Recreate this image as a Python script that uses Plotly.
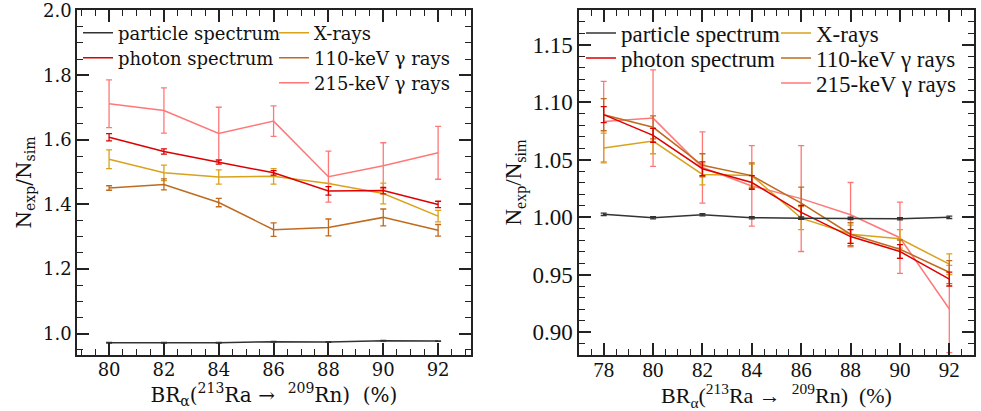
import plotly.graph_objects as go

# ---------------- data: left panel ----------------
xL = [80, 82, 84, 86, 88, 90, 92]
L_particle = [0.972, 0.972, 0.972, 0.975, 0.974, 0.978, 0.977]
L_particle_err = [0.001, 0.001, 0.001, 0.001, 0.001, 0.001, 0.001]
L_photon = [1.608, 1.564, 1.531, 1.498, 1.442, 1.443, 1.400]
L_photon_err = [0.011, 0.008, 0.006, 0.007, 0.013, 0.010, 0.010]
L_xray = [1.540, 1.498, 1.485, 1.487, 1.465, 1.434, 1.364]
L_xray_err = [0.029, 0.024, 0.022, 0.024, 0.000, 0.032, 0.018]
L_g110 = [1.451, 1.462, 1.406, 1.322, 1.329, 1.360, 1.320]
L_g110_err = [0.007, 0.017, 0.013, 0.021, 0.026, 0.026, 0.018]
L_g215 = [1.712, 1.691, 1.620, 1.658, 1.486, 1.520, 1.560]
L_g215_err = [0.074, 0.070, 0.081, 0.047, 0.079, 0.071, 0.082]

# ---------------- data: right panel ----------------
xR = [78, 80, 82, 84, 86, 88, 90, 92]
R_particle = [1.0023, 0.9994, 1.0020, 0.9994, 0.9990, 0.9988, 0.9985, 0.9997]
R_particle_err = [0.001, 0.001, 0.001, 0.001, 0.001, 0.001, 0.001, 0.001]
R_photon = [1.089, 1.071, 1.042, 1.030, 1.004, 0.983, 0.970, 0.946]
R_photon_err = [0.007, 0.006, 0.006, 0.006, 0.006, 0.006, 0.006, 0.006]
R_xray = [1.060, 1.066, 1.037, 1.036, 0.999, 0.985, 0.981, 0.959]
R_xray_err = [0.013, 0.011, 0.009, 0.010, 0.010, 0.008, 0.008, 0.009]
R_g110 = [1.089, 1.078, 1.045, 1.036, 1.012, 0.985, 0.972, 0.952]
R_g110_err = [0.014, 0.010, 0.010, 0.011, 0.014, 0.010, 0.008, 0.010]
R_g215 = [1.083, 1.086, 1.043, 1.027, 1.016, 1.002, 0.982, 0.920]
R_g215_err = [0.035, 0.042, 0.031, 0.035, 0.046, 0.028, 0.031, 0.038]

names = ["particle spectrum", "photon spectrum", "X-rays",
         "110-keV \u03b3 rays", "215-keV \u03b3 rays"]
colors = ["#333333", "#DD0000", "#D9A21B", "#BF6A1F", "#FF7878"]

FL = "DejaVu Serif"
FR = "Liberation Serif"
W, H = 981, 411

fig = go.Figure()

left_sets = [(L_particle, L_particle_err), (L_photon, L_photon_err),
             (L_xray, L_xray_err), (L_g110, L_g110_err), (L_g215, L_g215_err)]
right_sets = [(R_particle, R_particle_err), (R_photon, R_photon_err),
              (R_xray, R_xray_err), (R_g110, R_g110_err), (R_g215, R_g215_err)]

# legend placement (pixels): text start x and row centre y for each entry
legL_x = [118, 118, 314, 314, 314]
legR_x = [621, 621, 816, 816, 816]
leg_rows = [33, 58, 33, 58, 83]

order = [4, 2, 3, 1, 0]
layout_legends = {}
for panel, sets, xs, lx, font, fsize, xa, ya, base in [
        ("L", left_sets, xL, legL_x, FL, 18, "x", "y", 1),
        ("R", right_sets, xR, legR_x, FR, 23, "x2", "y2", 6)]:
    for i in order:
        y, e = sets[i]
        lname = "legend" if base + i == 1 else f"legend{base + i}"
        fig.add_trace(go.Scatter(
            x=xs, y=y, mode="lines", name=names[i], showlegend=True,
            line=dict(color=colors[i], width=1.5),
            error_y=dict(type="data", array=e, color=colors[i], thickness=1.3, width=3),
            xaxis=xa, yaxis=ya, legend=lname))
        layout_legends[lname] = dict(
            x=(lx[i] - 40) / W, y=1 - leg_rows[i] / H,
            xanchor="left", yanchor="middle",
            bgcolor="rgba(0,0,0,0)", borderwidth=0, itemwidth=30,
            itemclick=False, itemdoubleclick=False,
            font=dict(family=font, size=fsize, color="#111"))


def ax(font, size, rng, dtick, minor, domain, anchor, fmt=None, title=None,
       tsize=20, standoff=4, lstand=0):
    d = dict(range=rng, domain=domain, anchor=anchor, dtick=dtick, tick0=0,
             automargin=False,
             showline=True, linecolor="#222", linewidth=1.5, mirror="allticks",
             ticks="inside", ticklen=12, tickwidth=1.5, tickcolor="#222",
             minor=dict(dtick=minor, ticks="inside", ticklen=6, tickwidth=1, tickcolor="#222"),
             showgrid=False, zeroline=False, ticklabeloverflow="allow",
             ticklabelstandoff=lstand,
             tickfont=dict(family=font, size=size, color="#111"))
    if fmt:
        d["tickformat"] = fmt
    if title:
        d["title"] = dict(text=title, font=dict(family=font, size=tsize, color="#111"), standoff=standoff)
    return d


xtitle = "BR<sub>\u03b1</sub>(<sup>213</sup>Ra \u2192  <sup>209</sup>Rn)  (%)"
ytitle = "N<sub>exp</sub>/N<sub>sim</sub>"

ydom = [1 - 355 / H, 1 - 10 / H]

fig.update_layout(
    width=W, height=H, showlegend=True,
    margin=dict(l=0, r=0, t=0, b=0, autoexpand=False),
    paper_bgcolor="white", plot_bgcolor="white",
    xaxis=ax(FL, 18, [78.83, 93.2], 2, 0.5, [77 / W, 471 / W], "y", None, xtitle, 20, 4, -2),
    yaxis=ax(FL, 18, [0.934, 2.002], 0.2, 0.05, ydom, "x", ".1f", ytitle, 20, 6),
    xaxis2=ax(FR, 21, [77, 93], 2, 0.5, [579 / W, 974 / W], "y2", None, xtitle, 22, 10, -5),
    yaxis2=ax(FR, 23, [0.88, 1.18], 0.05, 0.01, ydom, "x2", ".2f", ytitle, 23, 4),
    **layout_legends,
)

fig.write_html("out.html")
